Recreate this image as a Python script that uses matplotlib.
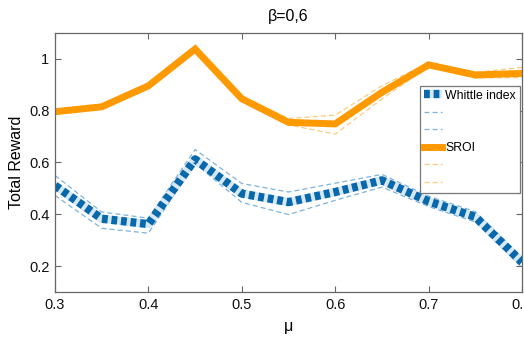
import matplotlib
matplotlib.use("Agg")
import matplotlib.pyplot as plt
from matplotlib.lines import Line2D

plt.rcParams['font.family'] = ['Liberation Sans', 'DejaVu Sans']

mu = [0.30, 0.35, 0.40, 0.45, 0.50, 0.55, 0.60, 0.65, 0.70, 0.75, 0.80]
whittle = [0.511, 0.383, 0.362, 0.612, 0.480, 0.447, 0.486, 0.531, 0.450, 0.390, 0.215]
whittle_hi = [0.550, 0.409, 0.385, 0.650, 0.519, 0.486, 0.520, 0.554, 0.470, 0.410, 0.235]
whittle_lo = [0.473, 0.346, 0.327, 0.596, 0.446, 0.399, 0.454, 0.505, 0.430, 0.370, 0.195]
sroi = [0.796, 0.815, 0.896, 1.038, 0.846, 0.755, 0.749, 0.871, 0.977, 0.938, 0.944]
sroi_hi = [0.799, 0.818, 0.899, 1.041, 0.855, 0.770, 0.783, 0.896, 0.985, 0.948, 0.967]
sroi_lo = [0.793, 0.812, 0.893, 1.035, 0.840, 0.745, 0.710, 0.845, 0.972, 0.926, 0.928]

blue = '#0868ac'
lblue = '#7fb3dc'
orange = '#ff9900'
lorange = '#ffc97a'

fig = plt.figure(figsize=(5.24, 3.38), dpi=100)
ax = fig.add_axes([55/524, (338-292)/338, (522-55)/524, (292-33)/338])

ax.plot(mu, whittle_hi, color=lblue, lw=0.9, ls=(0, (4, 2.5)))
ax.plot(mu, whittle_lo, color=lblue, lw=0.9, ls=(0, (4, 2.5)))
l1, = ax.plot(mu, whittle, color=blue, lw=6, ls=(0, (0.7, 0.45)),
              gapcolor='#d6e8f6', solid_capstyle='butt', dash_capstyle='butt')
ax.plot(mu, sroi_hi, color=lorange, lw=0.9, ls=(0, (4, 2.5)))
ax.plot(mu, sroi_lo, color=lorange, lw=0.9, ls=(0, (4, 2.5)))
l2, = ax.plot(mu, sroi, color=orange, lw=5, solid_joinstyle='miter')

ax.set_xlim(0.3, 0.8)
ax.set_ylim(0.1, 1.1)
ax.set_xticks([0.3, 0.4, 0.5, 0.6, 0.7, 0.8])
ax.set_xticklabels(['0.3', '0.4', '0.5', '0.6', '0.7', '0.8'])
ax.set_yticks([0.2, 0.4, 0.6, 0.8, 1.0])
ax.set_yticklabels(['0.2', '0.4', '0.6', '0.8', '1'])
ax.tick_params(direction='in', length=4, width=0.8, color='#666666',
               labelsize=10.5, top=True, right=True, labelcolor='#111111', pad=4)
for s in ax.spines.values():
    s.set_color('#666666')
    s.set_linewidth(0.9)

ax.set_xlabel('μ', fontsize=11.5, labelpad=5)
ax.set_ylabel('Total Reward', fontsize=11.5, labelpad=4)
ax.set_title('β=0,6', fontsize=11.5, pad=9)

hb1 = Line2D([], [], color=lblue, lw=0.9, ls=(0, (4, 2.5)))
hb2 = Line2D([], [], color=lblue, lw=0.9, ls=(0, (4, 2.5)))
ho1 = Line2D([], [], color=lorange, lw=0.9, ls=(0, (4, 2.5)))
ho2 = Line2D([], [], color=lorange, lw=0.9, ls=(0, (4, 2.5)))
leg = ax.legend([l1, hb1, hb2, l2, ho1, ho2],
                ['Whittle index', ' ', ' ', 'SROI', ' ', ' '],
                loc='upper right', bbox_to_anchor=(0.995, 0.795), borderaxespad=0,
                fontsize=8.8, fancybox=False, framealpha=1, edgecolor='#777777',
                handlelength=1.5, handletextpad=0.25, labelspacing=0.45,
                borderpad=0.3)
leg.get_frame().set_linewidth(0.9)

fig.savefig('out.png', dpi=100)
